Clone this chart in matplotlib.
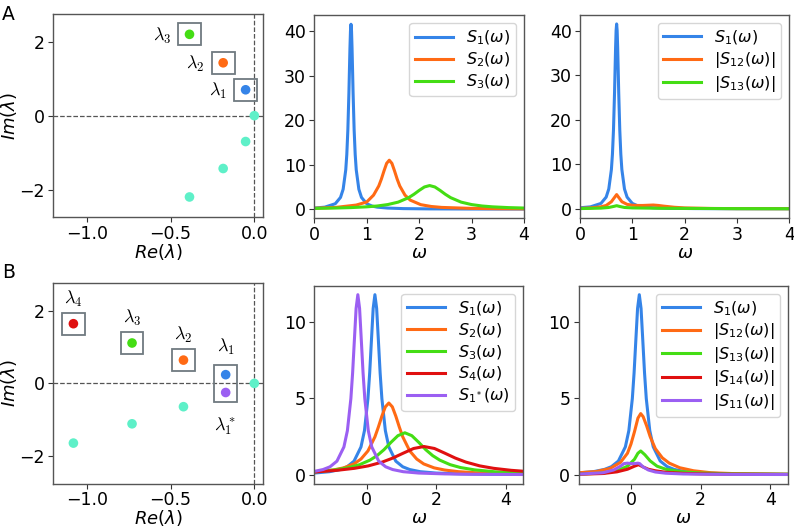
import matplotlib
matplotlib.use("Agg")
import matplotlib.pyplot as plt
from matplotlib.patches import Rectangle

# colours
BLUE = '#3584e8'
ORANGE = '#ff6a14'
GREEN = '#44dd14'
RED = '#e01010'
PURPLE = '#9b5ff2'
CYAN = '#5ef0c8'
BOXC = '#6f7a80'

# ---- eigenvalues, panel A
a_re = [-0.052, -0.186, -0.387]
a_im = [0.70, 1.43, 2.20]
a_names = [r'$\lambda_1$', r'$\lambda_2$', r'$\lambda_3$']
a_cols = [BLUE, ORANGE, GREEN]
a_conj_re = [0.0, -0.052, -0.186, -0.387]
a_conj_im = [0.0, -0.70, -1.43, -2.20]

# ---- eigenvalues, panel B
b_re = [-0.171, -0.423, -0.73, -1.08]
b_im = [0.24, 0.64, 1.11, 1.64]
b_names = [r'$\lambda_1$', r'$\lambda_2$', r'$\lambda_3$', r'$\lambda_4$']
b_cols = [BLUE, ORANGE, GREEN, RED]
b_star_re = -0.171
b_star_im = -0.25
b_conj_re = [0.0, -0.423, -0.73, -1.08]
b_conj_im = [0.0, -0.64, -1.11, -1.64]

# ---- spectra, panel A
a_s1_w = [0, 0.2, 0.4, 0.5, 0.55, 0.6, 0.62, 0.64, 0.66, 0.67, 0.68, 0.69, 0.70,
          0.71, 0.72, 0.73, 0.74, 0.76, 0.78, 0.8, 0.85, 0.9, 1.0, 1.1, 1.2, 1.4,
          1.7, 2.2, 3.0, 4.0]
a_s1 = [0.23, 0.44, 1.21, 2.63, 4.46, 8.84, 12.3, 17.8, 26.1, 31.2, 36.2, 40.1, 41.6,
        40.1, 36.2, 31.2, 26.1, 17.8, 12.3, 8.84, 4.46, 2.63, 1.21, 0.69, 0.44, 0.23,
        0.11, 0.05, 0.02, 0.01]
a_s2_w = [0, 0.4, 0.8, 1.0, 1.13, 1.23, 1.28, 1.33, 1.38, 1.43, 1.48, 1.53, 1.58,
          1.63, 1.73, 1.83, 2.03, 2.23, 2.43, 3.0, 3.5, 4.0]
a_s2 = [0.19, 0.37, 0.91, 1.6, 3.14, 5.21, 6.77, 8.61, 10.3, 11.0, 10.3, 8.61, 6.77,
        5.21, 3.14, 2.02, 1.0, 0.59, 0.38, 0.16, 0.09, 0.06]
a_s3_w = [0, 0.4, 0.7, 1.0, 1.2, 1.4, 1.6, 1.8, 1.9, 2.0, 2.1, 2.2, 2.3, 2.4, 2.5,
          2.6, 2.8, 3.0, 3.2, 3.4, 3.7, 4.0]
a_s3 = [0.16, 0.24, 0.34, 0.51, 0.70, 1.02, 1.57, 2.58, 3.33, 4.2, 4.98, 5.3, 4.98,
        4.2, 3.33, 2.58, 1.57, 1.02, 0.70, 0.51, 0.34, 0.24]
a_s12_w = [0, 0.2, 0.4, 0.5, 0.6, 0.65, 0.7, 0.75, 0.8, 0.9, 1.0, 1.1, 1.2, 1.3,
           1.4, 1.5, 1.6, 1.8, 2.0, 2.5, 3.0, 4.0]
a_s12 = [0.1, 0.2, 0.45, 0.75, 1.6, 2.4, 3.2, 2.4, 1.6, 1.0, 0.8, 0.75, 0.75, 0.8,
         0.85, 0.75, 0.6, 0.35, 0.2, 0.08, 0.04, 0.02]
a_s13_w = [0, 0.4, 0.55, 0.65, 0.7, 0.75, 0.85, 1.0, 1.5, 2.2, 3.0, 4.0]
a_s13 = [0.05, 0.15, 0.3, 0.55, 0.7, 0.55, 0.3, 0.2, 0.12, 0.08, 0.04, 0.02]

# ---- spectra, panel B
b_s1_w = [-1.5, -1.06, -0.76, -0.56, -0.36, -0.16, -0.06, 0.04, 0.09, 0.14, 0.19,
          0.24, 0.29, 0.34, 0.39, 0.44, 0.54, 0.64, 0.84, 1.04, 1.24, 1.54, 2.0,
          2.74, 3.5, 4.5]
b_s1 = [0.11, 0.20, 0.34, 0.52, 0.89, 1.82, 2.89, 4.99, 6.67, 8.80, 10.9, 11.8,
        10.9, 8.80, 6.67, 4.99, 2.89, 1.82, 0.89, 0.52, 0.34, 0.20, 0.11, 0.055,
        0.032, 0.019]
b_s1s_w = [-1.5, -1.25, -1.05, -0.85, -0.65, -0.55, -0.45, -0.40, -0.35, -0.30,
           -0.25, -0.20, -0.15, -0.10, -0.05, 0.05, 0.15, 0.35, 0.55, 0.75, 1.05,
           1.5, 2.25, 3.0, 4.5]
b_s1s = [0.22, 0.34, 0.52, 0.89, 1.82, 2.89, 4.99, 6.67, 8.80, 10.9, 11.8, 10.9,
         8.80, 6.67, 4.99, 2.89, 1.82, 0.89, 0.52, 0.34, 0.20, 0.11, 0.055, 0.032,
         0.015]
b_s2_w = [-1.5, -0.96, -0.66, -0.36, -0.16, 0.04, 0.24, 0.34, 0.44, 0.54, 0.64,
          0.74, 0.84, 0.94, 1.04, 1.24, 1.44, 1.64, 1.94, 2.24, 2.64, 3.14, 3.64, 4.5]
b_s2 = [0.18, 0.31, 0.45, 0.71, 1.03, 1.56, 2.48, 3.13, 3.84, 4.45, 4.7, 4.45, 3.84,
        3.13, 2.48, 1.56, 1.03, 0.71, 0.45, 0.31, 0.20, 0.13, 0.09, 0.056]
b_s3_w = [-1.5, -0.9, -0.5, -0.2, 0.1, 0.3, 0.5, 0.7, 0.9, 1.1, 1.3, 1.5, 1.7, 1.9,
          2.1, 2.4, 2.7, 3.1, 3.7, 4.5]
b_s3 = [0.19, 0.32, 0.47, 0.66, 0.96, 1.25, 1.64, 2.12, 2.56, 2.75, 2.56, 2.12, 1.64,
        1.25, 0.96, 0.66, 0.47, 0.32, 0.19, 0.12]
b_s4_w = [-1.5, -0.85, -0.35, 0.05, 0.45, 0.75, 1.05, 1.35, 1.65, 1.95, 2.25, 2.55,
          2.85, 3.25, 3.65, 4.15, 4.5]
b_s4 = [0.18, 0.29, 0.42, 0.58, 0.83, 1.09, 1.41, 1.72, 1.85, 1.72, 1.41, 1.09, 0.83,
        0.58, 0.42, 0.29, 0.23]
b_s12_w = [-1.5, -1.0, -0.6, -0.3, -0.1, 0.0, 0.1, 0.2, 0.28, 0.35, 0.45, 0.55, 0.7,
           0.9, 1.1, 1.4, 1.8, 2.3, 3.0, 4.5]
b_s12 = [0.12, 0.2, 0.4, 0.8, 1.4, 2.0, 2.8, 3.7, 4.0, 3.8, 3.2, 2.5, 1.7, 1.1, 0.75,
         0.45, 0.25, 0.12, 0.06, 0.02]
b_s13_w = [-1.5, -0.8, -0.4, -0.1, 0.1, 0.2, 0.28, 0.4, 0.55, 0.75, 1.0, 1.4, 2.0,
           3.0, 4.5]
b_s13 = [0.03, 0.1, 0.25, 0.55, 1.0, 1.4, 1.55, 1.3, 0.9, 0.55, 0.35, 0.2, 0.1, 0.04,
         0.02]
b_s14_w = [-1.5, -0.8, -0.4, -0.1, 0.1, 0.22, 0.35, 0.5, 0.7, 1.0, 1.5, 2.2, 3.0, 4.5]
b_s14 = [0.02, 0.07, 0.18, 0.35, 0.55, 0.65, 0.5, 0.35, 0.25, 0.15, 0.08, 0.04, 0.02,
         0.01]
b_s11_w = [-1.5, -0.8, -0.5, -0.3, -0.2, -0.1, 0.0, 0.1, 0.2, 0.25, 0.35, 0.5, 0.7,
           1.0, 1.5, 2.2, 3.0, 4.5]
b_s11 = [0.03, 0.12, 0.3, 0.55, 0.72, 0.75, 0.72, 0.72, 0.75, 0.72, 0.5, 0.3, 0.17,
         0.09, 0.04, 0.02, 0.01, 0.005]

plt.rcParams['font.size'] = 12.5
plt.rcParams['axes.edgecolor'] = '#555555'
plt.rcParams['axes.linewidth'] = 1.0
plt.rcParams['xtick.color'] = '#333333'
plt.rcParams['ytick.color'] = '#333333'
plt.rcParams['xtick.labelcolor'] = 'black'
plt.rcParams['ytick.labelcolor'] = 'black'
plt.rcParams['xtick.major.pad'] = 2.0
plt.rcParams['ytick.major.pad'] = 2.5

W, H = 794, 528
fig = plt.figure(figsize=(W / 100, H / 100), dpi=100)


def px_axes(left, right, top, bottom):
    return fig.add_axes([left / W, 1 - bottom / H, (right - left) / W, (bottom - top) / H])


LW = 2.2
BOX_HW = 0.068   # box half width (data units)
BOX_HH = 0.30    # box half height
LBL = 13
AXLBL = 13


def eig_panel(ax, re, im, names, cols, conj_re, conj_im, label_pos):
    ax.axhline(0, color='#555555', ls='--', lw=0.9, zorder=1)
    ax.axvline(0, color='#555555', ls='--', lw=0.9, zorder=1)
    ax.scatter(conj_re, conj_im, s=48, color=CYAN, zorder=3, edgecolors='none')
    ax.scatter(re, im, s=48, c=cols, zorder=3, edgecolors='none')
    for x, y, name in zip(re, im, names):
        ax.add_patch(Rectangle((x - BOX_HW, y - BOX_HH), 2 * BOX_HW, 2 * BOX_HH,
                               fill=False, edgecolor=BOXC, lw=1.3, zorder=2))
        if label_pos == 'left':
            off = (-20, -1)
        else:
            off = (0, 18)
        ax.annotate(name, (x, y), xytext=off, textcoords='offset points',
                    ha='center', va='center', fontsize=LBL, math_fontfamily='cm')
    ax.set_xlim(-1.2, 0.05)
    ax.set_ylim(-2.75, 2.75)
    ax.set_xticks([-1.0, -0.5, 0.0])
    ax.set_yticks([-2, 0, 2])
    ax.set_xlabel(r'$Re(\lambda)$', fontsize=AXLBL, labelpad=-1)
    ax.set_ylabel(r'$Im(\lambda)$', fontsize=AXLBL, labelpad=0)


def spec_panel(ax, curves, xlim, xticks, yticks):
    for w, s, col, lab in curves:
        ax.plot(w, s, color=col, lw=LW, label=lab)
    ax.set_xlim(*xlim)
    ax.set_xticks(xticks)
    ax.set_yticks(yticks)
    ax.set_xlabel(r'$\omega$', fontsize=AXLBL, labelpad=0)
    ax.legend(loc='upper right', fontsize=11.5, handlelength=2.4, borderaxespad=0.5,
              labelspacing=0.22, handletextpad=0.8, borderpad=0.35)


# --- row A
ax = px_axes(53.3, 262.7, 14, 217.3)
eig_panel(ax, a_re, a_im, a_names, a_cols, a_conj_re, a_conj_im, 'left')
fig.text(2 / W, 1 - 15 / H, 'A', fontsize=13.5, va='center', ha='left')

ax = px_axes(314.3, 524, 15, 218.3)
spec_panel(ax, [(a_s1_w, a_s1, BLUE, r'$S_1(\omega)$'),
                (a_s2_w, a_s2, ORANGE, r'$S_2(\omega)$'),
                (a_s3_w, a_s3, GREEN, r'$S_3(\omega)$')],
           (0, 4), [0, 1, 2, 3, 4], [0, 10, 20, 30, 40])

ax = px_axes(580, 789.3, 14.7, 218)
spec_panel(ax, [(a_s1_w, a_s1, BLUE, r'$S_1(\omega)$'),
                (a_s12_w, a_s12, ORANGE, r'$|S_{12}(\omega)|$'),
                (a_s13_w, a_s13, GREEN, r'$|S_{13}(\omega)|$')],
           (0, 4), [0, 1, 2, 3, 4], [0, 10, 20, 30, 40])

# --- row B
ax = px_axes(53.3, 262.7, 283.3, 483.5)
eig_panel(ax, b_re, b_im, b_names, b_cols, b_conj_re, b_conj_im, 'above')
# conjugate of lambda_1 shares the lambda_1 box
ax.scatter([b_star_re], [b_star_im], s=48, color=PURPLE, zorder=3, edgecolors='none')
ax.patches[0].remove()
top = b_im[0] + 0.26
bot = b_star_im - 0.26
ax.add_patch(Rectangle((b_re[0] - BOX_HW, bot), 2 * BOX_HW, top - bot,
                       fill=False, edgecolor=BOXC, lw=1.3, zorder=2))
ax.texts[0].set_position((0, 20))
ax.annotate(r'$\lambda_1^*$', (b_star_re, b_star_im), xytext=(0, -24),
            textcoords='offset points', ha='center', va='center', fontsize=LBL,
            math_fontfamily='cm')
fig.text(2 / W, 1 - 272 / H, 'B', fontsize=13.5, va='center', ha='left')

ax = px_axes(314.3, 523.3, 285.7, 483.5)
spec_panel(ax, [(b_s1_w, b_s1, BLUE, r'$S_1(\omega)$'),
                (b_s2_w, b_s2, ORANGE, r'$S_2(\omega)$'),
                (b_s3_w, b_s3, GREEN, r'$S_3(\omega)$'),
                (b_s4_w, b_s4, RED, r'$S_4(\omega)$'),
                (b_s1s_w, b_s1s, PURPLE, r'$S_{1^*}(\omega)$')],
           (-1.5, 4.5), [0, 2, 4], [0, 5, 10])

ax = px_axes(578.7, 787.7, 285.7, 483.5)
spec_panel(ax, [(b_s1_w, b_s1, BLUE, r'$S_1(\omega)$'),
                (b_s12_w, b_s12, ORANGE, r'$|S_{12}(\omega)|$'),
                (b_s13_w, b_s13, GREEN, r'$|S_{13}(\omega)|$'),
                (b_s14_w, b_s14, RED, r'$|S_{14}(\omega)|$'),
                (b_s11_w, b_s11, PURPLE, r'$|S_{11}(\omega)|$')],
           (-1.5, 4.5), [0, 2, 4], [0, 5, 10])

fig.savefig('out.png', dpi=100)
